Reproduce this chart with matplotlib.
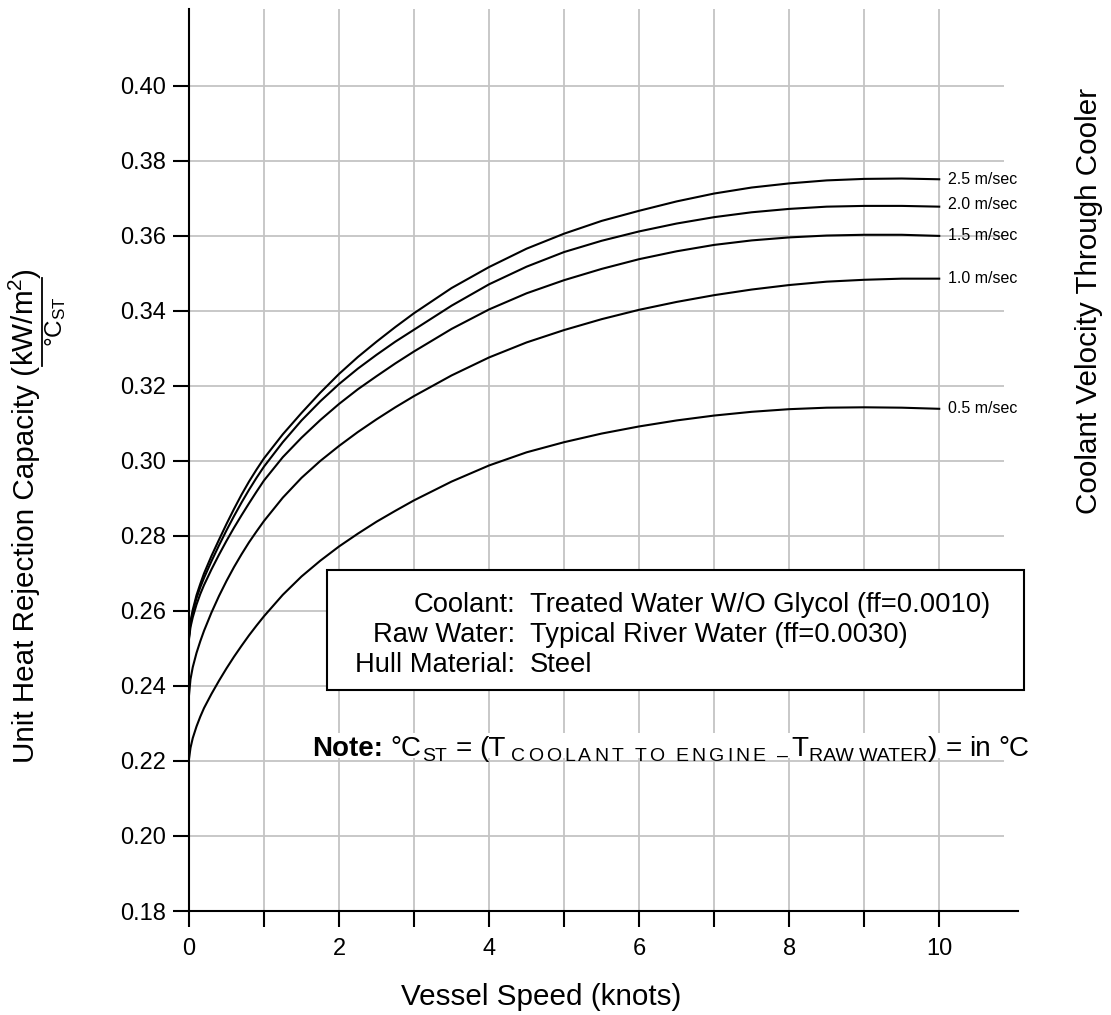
import matplotlib
matplotlib.use('Agg')
import matplotlib.pyplot as plt
from matplotlib.lines import Line2D
from matplotlib.patches import Rectangle

plt.rcParams['font.family'] = ['Liberation Sans', 'DejaVu Sans']
plt.rcParams['mathtext.fontset'] = 'custom'
plt.rcParams['mathtext.rm'] = 'Liberation Sans'
plt.rcParams['mathtext.it'] = 'Liberation Sans:italic'
plt.rcParams['mathtext.bf'] = 'Liberation Sans:bold'

# ---------------- data ----------------
speed = [0, 0.02, 0.05, 0.1, 0.15, 0.2, 0.3, 0.4, 0.5, 0.6, 0.7, 0.8, 0.9, 1.0,
         1.25, 1.5, 1.75, 2.0, 2.25, 2.5, 2.75, 3.0, 3.5, 4.0, 4.5, 5.0, 5.5, 6.0,
         6.5, 7.0, 7.5, 8.0, 8.5, 9.0, 9.5, 10.0]
v25 = [0.2535, 0.2572, 0.2603, 0.2642, 0.2672, 0.2700, 0.2747, 0.2790, 0.2832, 0.2872,
       0.2910, 0.2945, 0.2977, 0.3007,
       0.3071, 0.3128, 0.3182, 0.3232, 0.3277, 0.3318, 0.3357, 0.3394,
       0.3461, 0.3517, 0.3566, 0.3606, 0.3640, 0.3667,
       0.3692, 0.3713, 0.3729, 0.3740, 0.3748, 0.3752, 0.3753, 0.3751]
v20 = [0.2530, 0.2567, 0.2596, 0.2634, 0.2663, 0.2688, 0.2733, 0.2775, 0.2815, 0.2853,
       0.2889, 0.2923, 0.2955, 0.2985,
       0.3050, 0.3108, 0.3159, 0.3205, 0.3246, 0.3283, 0.3318, 0.3350,
       0.3414, 0.3471, 0.3518, 0.3557, 0.3587, 0.3612,
       0.3633, 0.3650, 0.3663, 0.3672, 0.3678, 0.3680, 0.3680, 0.3678]
v15 = [0.2525, 0.2557, 0.2583, 0.2617, 0.2645, 0.2669, 0.2711, 0.2750, 0.2787, 0.2822,
       0.2855, 0.2887, 0.2918, 0.2948,
       0.3010, 0.3062, 0.3109, 0.3152, 0.3191, 0.3226, 0.3260, 0.3292,
       0.3352, 0.3404, 0.3447, 0.3482, 0.3512, 0.3538,
       0.3559, 0.3576, 0.3588, 0.3596, 0.3601, 0.3603, 0.3603, 0.3600]
v10 = [0.2375, 0.2418, 0.2450, 0.2488, 0.2519, 0.2547, 0.2596, 0.2640, 0.2680, 0.2717,
       0.2751, 0.2783, 0.2812, 0.2840,
       0.2902, 0.2955, 0.3000, 0.3040, 0.3077, 0.3111, 0.3143, 0.3173,
       0.3228, 0.3276, 0.3316, 0.3349, 0.3378, 0.3403,
       0.3424, 0.3442, 0.3457, 0.3469, 0.3478, 0.3483, 0.3486, 0.3486]
v05 = [0.2205, 0.2235, 0.2261, 0.2292, 0.2318, 0.2341, 0.2379, 0.2414, 0.2447, 0.2478,
       0.2507, 0.2535, 0.2561, 0.2586,
       0.2643, 0.2692, 0.2734, 0.2772, 0.2806, 0.2838, 0.2867, 0.2895,
       0.2945, 0.2988, 0.3023, 0.3050, 0.3073, 0.3092,
       0.3108, 0.3121, 0.3131, 0.3138, 0.3142, 0.3143, 0.3142, 0.3139]
curve_labels = ['2.5 m/sec', '2.0 m/sec', '1.5 m/sec', '1.0 m/sec', '0.5 m/sec']
curves = [v25, v20, v15, v10, v05]
label_offsets = [0.0, 0.0007, 0.0, 0.0, 0.0]

x_major = [0, 2, 4, 6, 8, 10]
x_minor = [1, 3, 5, 7, 9]
y_ticks = [0.18, 0.20, 0.22, 0.24, 0.26, 0.28, 0.30, 0.32, 0.34, 0.36, 0.38, 0.40]

box_keys = ['Coolant:', 'Raw Water:', 'Hull Material:']
box_vals = ['Treated Water W/O Glycol (ff=0.0010)',
            'Typical River Water (ff=0.0030)',
            'Steel']

# ---------------- figure ----------------
W, H = 1111, 1015
fig = plt.figure(figsize=(W / 100, H / 100), dpi=100)
r = fig.canvas.get_renderer()


def fx(px):
    return px / W


def fy(py):
    return 1 - py / H


AX_L, AX_R, AX_B, AX_T = 189, 1018, 911, 9
ax = fig.add_axes([fx(AX_L), fy(AX_B), (AX_R - AX_L) / W, (AX_B - AX_T) / H])
ax.set_xlim(0, 11.05)
ax.set_ylim(0.18, 0.4205)

for s in ['top', 'right']:
    ax.spines[s].set_visible(False)
for s in ['left', 'bottom']:
    ax.spines[s].set_linewidth(1.5)

ax.set_xticks(x_major)
ax.set_xticklabels([str(v) for v in x_major])
ax.set_xticks(x_minor, minor=True)
ax.set_yticks(y_ticks)
ax.set_yticklabels([f'{v:.2f}' for v in y_ticks])
ax.tick_params(which='both', direction='out', length=11.5, width=1.5,
               labelsize=17, colors='black')
ax.tick_params(axis='x', pad=8)
ax.tick_params(axis='y', pad=5)

grid_c = '#c4c4c4'
ax.vlines(list(range(1, 11)), 0.18, 0.4205, colors=grid_c, lw=1.3, zorder=0)
ax.hlines(y_ticks[1:], 0, 10.87, colors=grid_c, lw=1.3, zorder=0)

for ys, lab, off in zip(curves, curve_labels, label_offsets):
    ax.plot(speed, ys, color='black', lw=1.5, zorder=2)
    ax.text(speed[-1] + 0.12, ys[-1] + off, lab, fontsize=11.5,
            ha='left', va='center', clip_on=False)


def axx(px):
    return (px - AX_L) / (AX_R - AX_L)


def axy(py):
    return (AX_B - py) / (AX_B - AX_T)


# Info box
box_l, box_r, box_t, box_b = 327, 1024, 570, 690
ax.add_patch(Rectangle((axx(box_l), axy(box_b)), axx(box_r) - axx(box_l),
                       axy(box_t) - axy(box_b), transform=ax.transAxes,
                       facecolor='white', edgecolor='black', lw=1.5, zorder=3,
                       clip_on=False))
box_fs = 19.7
for i, (k, v) in enumerate(zip(box_keys, box_vals)):
    yb = 612 + 30 * i
    fig.text(fx(515), fy(yb), k, ha='right', va='baseline', fontsize=box_fs)
    fig.text(fx(530), fy(yb), v, ha='left', va='baseline', fontsize=box_fs)

# Note line (white backdrop hides vertical grid lines behind the text)
ax.add_patch(Rectangle((axx(309), axy(758)), axx(1036) - axx(309), axy(733) - axy(758),
                       transform=ax.transAxes, facecolor='white', edgecolor='none',
                       zorder=1, clip_on=False))

NOTE_BASE = 756
MAIN_FS, SUB_FS = 20, 14
SP = MAIN_FS * 0.278 * 100 / 72
SP_SUB = SUB_FS * 0.278 * 100 / 72


def put(x, s, fs, dy=0, weight='normal'):
    t = fig.text(fx(x), fy(NOTE_BASE + dy), s, ha='left', va='baseline',
                 fontsize=fs, fontweight=weight)
    return t.get_window_extent(r).width


x = 312
x += put(x, 'Note:', MAIN_FS, weight='bold') + SP
x += put(x, '°C', MAIN_FS) + 1
x += put(x, 'ST', SUB_FS, dy=5) + SP
x += put(x, '=', MAIN_FS) + SP
x += put(x, '(T', MAIN_FS) + SP_SUB

# slightly letter-spaced subscript, as in the reference
sub_text = 'COOLANT TO ENGINE –'
sub_end = 788
widths = []
for ch in sub_text:
    if ch == ' ':
        widths.append(None)
    else:
        tmp = fig.text(0, 0, ch, fontsize=SUB_FS)
        widths.append(tmp.get_window_extent(r).width)
        tmp.remove()
ink = sum(w if w is not None else SP_SUB for w in widths)
track = (sub_end - x - ink) / (len(sub_text) - 1)
for ch, w in zip(sub_text, widths):
    if w is None:
        x += SP_SUB + track
    else:
        put(x, ch, SUB_FS, dy=5)
        x += w + track
x = sub_end + 3
x += put(x, 'T', MAIN_FS) + 1
x += put(x, 'RAW WATER', SUB_FS, dy=5) + 1
x += put(x, ')', MAIN_FS) + SP
x += put(x, '=', MAIN_FS) + SP
x += put(x, 'in', MAIN_FS) + SP
put(x, '°C', MAIN_FS)

# Axis labels
lab_fs = 21.3
fig.text(fx(541), fy(1005), 'Vessel Speed (knots)', ha='center', va='baseline',
         fontsize=lab_fs)
fig.text(fx(1089), fy(301), 'Coolant Velocity Through Cooler', rotation=90,
         ha='center', va='center', fontsize=lab_fs)

xb = 34.5
t1 = fig.text(fx(xb), fy(763), 'Unit Heat Rejection Capacity (', rotation=90,
              rotation_mode='anchor', ha='left', va='baseline', fontsize=lab_fs)
bb1 = t1.get_window_extent(r)
t2 = fig.text(fx(xb), bb1.y1 / H, 'kW/m$^2$', rotation=90,
              rotation_mode='anchor', ha='left', va='baseline', fontsize=lab_fs)
bb2 = t2.get_window_extent(r)
fig.text(fx(xb), bb2.y1 / H, ')', rotation=90,
         rotation_mode='anchor', ha='left', va='baseline', fontsize=lab_fs)
fig.add_artist(Line2D([fx(41.5), fx(41.5)], [bb2.y0 / H, bb2.y1 / H],
                      transform=fig.transFigure, color='black', lw=1.3))
fig.text(fx(62), (bb2.y0 + bb2.y1) / 2 / H, '°C$_{\\mathrm{ST}}$', rotation=90,
         rotation_mode='anchor', ha='center', va='baseline', fontsize=17.5)

fig.savefig('out.png', dpi=100)
